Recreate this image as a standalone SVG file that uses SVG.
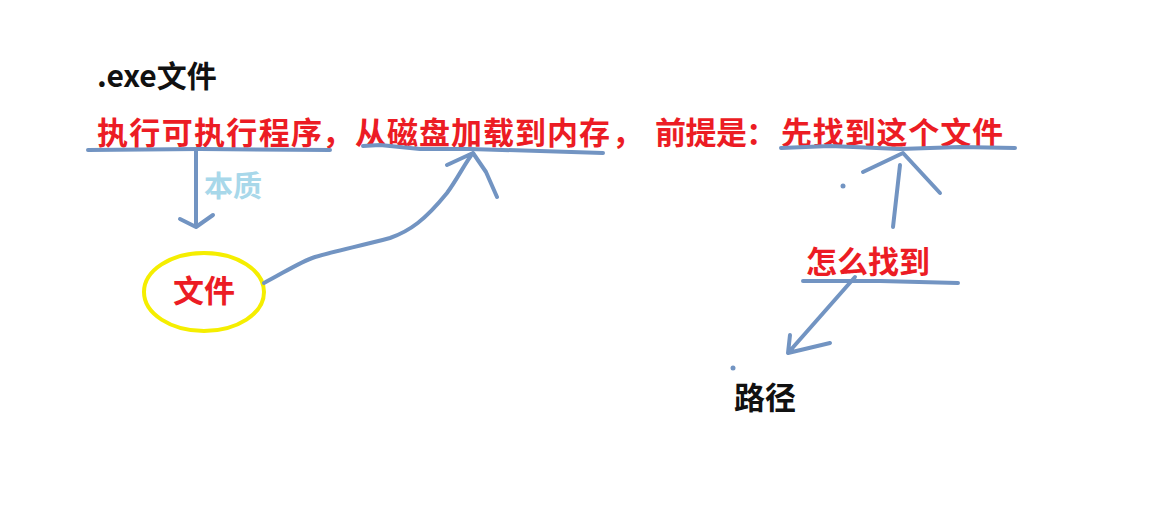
<svg xmlns="http://www.w3.org/2000/svg" width="1158" height="509" viewBox="0 0 1158 509">
<style>
.t{font-family:"Noto Sans CJK SC","Noto Sans",sans-serif;font-weight:bold;}
.red{fill:#ec1c24;font-size:31px;}
.blk{fill:#111;font-size:31px;}
.ln{fill:none;stroke:#7294c2;stroke-width:4;stroke-linecap:round;stroke-linejoin:round;}
</style>
<rect width="1158" height="509" fill="#fff"/>
<g id="title"><text class="t blk" x="97" y="87" style="font-size:30px">.exe文件</text></g>
<g id="sentence">
<text class="t red" x="97" y="144" textLength="225">执行可执行程序</text>
<text class="t red" x="322" y="144">，</text>
<text class="t red" x="355" y="144" textLength="255">从磁盘加载到内存</text>
<text class="t red" x="612" y="144">，</text>
<text class="t red" x="655" y="144" textLength="92">前提是</text>
<text class="t red" x="746" y="144">：</text>
<text class="t red" x="781" y="144" textLength="222">先找到这个文件</text>
</g>
<g id="file-node">
<ellipse cx="204" cy="292" rx="60" ry="39" fill="none" stroke="#f5ee00" stroke-width="4"/>
<text class="t red" x="204" y="302" text-anchor="middle">文件</text>
</g>
<g id="label-essence"><text class="t" x="204" y="197" style="fill:#a8d8ea;font-size:29px">本质</text></g>
<g id="how-node"><text class="t red" x="806" y="273" textLength="124">怎么找到</text></g>
<g id="path-node"><text class="t blk" x="734" y="409">路径</text></g>
<g id="connectors">
<path class="ln" d="M88 150 L200 149 L330 150"/>
<path class="ln" d="M363 146 L380 145 L420 149 L470 149 L540 151 L603 153"/>
<path class="ln" d="M781 148 L830 146 L900 149 L960 147 L1015 148"/>
<path class="ln" d="M803 281 L880 281 L958 283"/>
<path class="ln" d="M196 150 L196 227 M180 219 L196 227 L213 215"/>
<path class="ln" d="M264 283 C285 272 300 262 315 257 C335 251 360 246 390 238 C410 231 425 220 447 193 C458 178 465 163 473 153 M447 165 L473 153 L486 172 L497 197"/>
<path class="ln" d="M893 227 L900 165 M863 172 L903 153 L940 193"/>
<circle cx="843" cy="186" r="2.5" fill="#7294c2"/>
<path class="ln" d="M855 277 L788 353 M790 335 L788 353 L830 343"/>
<circle cx="733" cy="368" r="2.5" fill="#7294c2"/>
</g>
</svg>
